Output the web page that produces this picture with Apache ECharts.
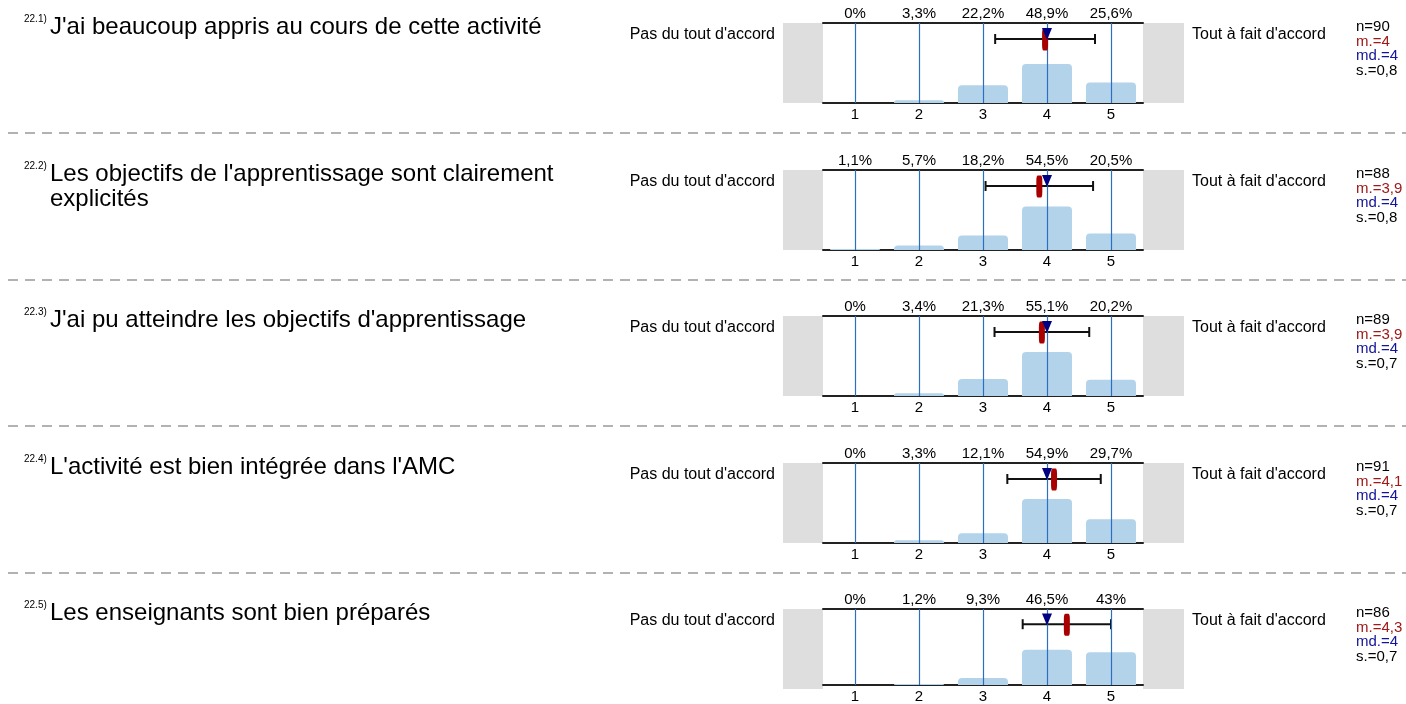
<!DOCTYPE html>
<html>
<head>
<meta charset="utf-8">
<script src="https://cdn.jsdelivr.net/npm/echarts@6/dist/echarts.min.js"></script>
<style>
  html, body { margin: 0; padding: 0; background: #fff; }
  #chart { width: 1406px; height: 704px; }
</style>
</head>
<body>
<div id="chart"></div>
<script>
// items of question 22
const itemNumbers = ['22.1)', '22.2)', '22.3)', '22.4)', '22.5)'];
const itemTitles = [
  "J'ai beaucoup appris au cours de cette activité",
  "Les objectifs de l'apprentissage sont clairement\nexplicités",
  "J'ai pu atteindre les objectifs d'apprentissage",
  "L'activité est bien intégrée dans l'AMC",
  "Les enseignants sont bien préparés"
];
const scaleValues = ['1', '2', '3', '4', '5'];
const leftPole = "Pas du tout d'accord";
const rightPole = "Tout à fait d'accord";

// percentages per answer (1..5)
const pct1 = [0, 3.3, 22.2, 48.9, 25.6];
const pct2 = [1.1, 5.7, 18.2, 54.5, 20.5];
const pct3 = [0, 3.4, 21.3, 55.1, 20.2];
const pct4 = [0, 3.3, 12.1, 54.9, 29.7];
const pct5 = [0, 1.2, 9.3, 46.5, 43];
const pcts = [pct1, pct2, pct3, pct4, pct5];

const nValues = [90, 88, 89, 91, 86];
const means = [3.97, 3.88, 3.92, 4.11, 4.31];
const sds = [0.78, 0.84, 0.74, 0.73, 0.69];
const medians = [4, 4, 4, 4, 4];
const meanLabels = ['4', '3,9', '3,9', '4,1', '4,3'];
const medianLabels = ['4', '4', '4', '4', '4'];
const sdLabels = ['0,8', '0,8', '0,7', '0,7', '0,7'];

const FONT = '"Liberation Sans", Arial, sans-serif';
const rowTop = i => Math.round(23 + i * 146.6);
const plotLeft = 823, plotW = 320, plotH = 80;

function fmtPct(v) {
  return String(v).replace('.', ',') + '%';
}

const grids = [], xAxes = [], yAxes = [], series = [], graphics = [];

pcts.forEach((p, i) => {
  const T = rowTop(i);
  grids.push({ left: plotLeft, top: T, width: plotW, height: plotH, containLabel: false });

  // bottom: scale values
  xAxes.push({
    type: 'category', gridIndex: i, position: 'bottom', data: scaleValues,
    axisLine: { show: true, lineStyle: { color: '#222', width: 2 } },
    axisTick: { show: false },
    axisLabel: { color: '#000', fontSize: 15, fontFamily: FONT, margin: 4, interval: 0 },
    splitLine: { show: false }
  });
  // top: percentages
  xAxes.push({
    type: 'category', gridIndex: i, position: 'top', data: p.map(fmtPct),
    axisLine: { show: false }, axisTick: { show: false },
    axisLabel: { color: '#000', fontSize: 15, fontFamily: FONT, margin: 2, interval: 0 },
    splitLine: { show: false }
  });
  // continuous scale for mean / sd / median
  xAxes.push({
    type: 'value', gridIndex: i, position: 'top', min: 0.5, max: 5.5,
    axisLine: { show: true, lineStyle: { color: '#222', width: 2 } },
    axisTick: { show: false }, axisLabel: { show: false }, splitLine: { show: false }
  });
  yAxes.push({ type: 'value', gridIndex: i, min: 0, max: 100, show: false });

  series.push({
    type: 'bar', xAxisIndex: 3 * i, yAxisIndex: i, data: p, barWidth: 50, z: 2,
    itemStyle: { color: '#b3d3ea', borderRadius: [4, 4, 0, 0] }
  });
  series.push({
    type: 'custom', xAxisIndex: 3 * i + 2, yAxisIndex: i, z: 4,
    data: [[means[i], sds[i], 80]],
    encode: { x: 0, y: 2 },
    renderItem: function (params, api) {
      const m = api.value(0), s = api.value(1), y = api.value(2);
      const a = api.coord([m - s, y]);
      const b = api.coord([m + s, y]);
      const st = { stroke: '#111', lineWidth: 2 };
      return {
        type: 'group', children: [
          { type: 'line', shape: { x1: a[0], y1: a[1], x2: b[0], y2: b[1] }, style: st },
          { type: 'line', shape: { x1: a[0], y1: a[1] - 5, x2: a[0], y2: a[1] + 5 }, style: st },
          { type: 'line', shape: { x1: b[0], y1: b[1] - 5, x2: b[0], y2: b[1] + 5 }, style: st }
        ]
      };
    },
    markLine: {
      silent: true, symbol: ['none', 'none'], label: { show: false },
      lineStyle: { color: '#2b6fc0', width: 1.2, type: 'solid', opacity: 1 },
      emphasis: { disabled: true },
      data: scaleValues.map(v => ({ xAxis: Number(v) }))
    }
  });
  series.push({
    type: 'scatter', xAxisIndex: 3 * i + 2, yAxisIndex: i, z: 5,
    data: [[means[i], 79.4]], symbol: 'roundRect', symbolSize: [6, 22],
    itemStyle: { color: '#a80000', opacity: 1 }
  });
  series.push({
    type: 'scatter', xAxisIndex: 3 * i + 2, yAxisIndex: i, z: 6,
    data: [[medians[i], 86.3]], symbol: 'triangle', symbolRotate: 180, symbolSize: [10, 12],
    itemStyle: { color: '#000080', opacity: 1 }
  });

  // grey pole boxes
  graphics.push({ type: 'rect', z: 0, shape: { x: 783, y: T, width: 40, height: plotH }, style: { fill: '#dedede' } });
  graphics.push({ type: 'rect', z: 0, shape: { x: 1143, y: T, width: 41, height: plotH }, style: { fill: '#dedede' } });

  // titles
  graphics.push({ type: 'text', x: 24, y: T - 4, style: { text: itemNumbers[i], font: '10px ' + FONT, fill: '#000', verticalAlign: 'middle' } });
  graphics.push({ type: 'text', x: 50, y: T - 8, style: { text: itemTitles[i], font: '24px ' + FONT, fill: '#000', verticalAlign: 'top', lineHeight: 25 } });

  // pole labels
  graphics.push({ type: 'text', x: 775, y: T + 12, style: { text: leftPole, font: '16px ' + FONT, fill: '#000', align: 'right', verticalAlign: 'middle' } });
  graphics.push({ type: 'text', x: 1192, y: T + 12, style: { text: rightPole, font: '16px ' + FONT, fill: '#000', align: 'left', verticalAlign: 'middle' } });

  // stats
  graphics.push({
    type: 'text', x: 1356, y: T - 3,
    style: {
      text: '{k|n=' + nValues[i] + '}\n{r|m.=' + meanLabels[i] + '}\n{b|md.=' + medianLabels[i] + '}\n{k|s.=' + sdLabels[i] + '}',
      verticalAlign: 'top',
      rich: {
        k: { fontSize: 15, fontFamily: FONT, fill: '#000', lineHeight: 14.4 },
        r: { fontSize: 15, fontFamily: FONT, fill: '#a01818', lineHeight: 14.4 },
        b: { fontSize: 15, fontFamily: FONT, fill: '#14149a', lineHeight: 14.4 }
      }
    }
  });

  // dashed separator
  if (i < pcts.length - 1) {
    graphics.push({
      type: 'line', shape: { x1: 8, y1: T + 110, x2: 1406, y2: T + 110 },
      style: { stroke: '#999', lineWidth: 1.5, lineDash: [10, 7] }
    });
  }
});

const chart = echarts.init(document.getElementById('chart'));
chart.setOption({
  animation: false,
  backgroundColor: '#fff',
  textStyle: { fontFamily: FONT },
  grid: grids,
  xAxis: xAxes,
  yAxis: yAxes,
  series: series,
  graphic: graphics
});
</script>
</body>
</html>
